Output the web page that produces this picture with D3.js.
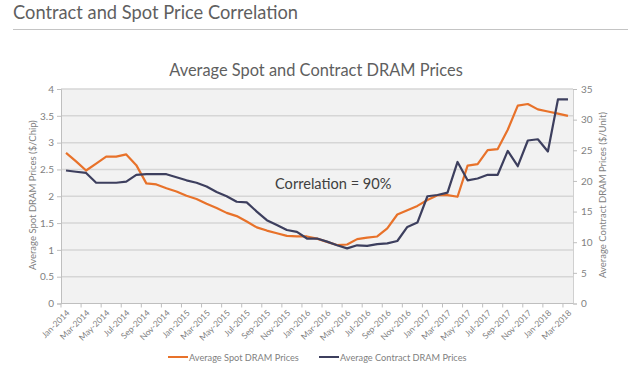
<!DOCTYPE html>
<html><head><meta charset="utf-8">
<script src="https://cdn.jsdelivr.net/npm/d3@7"></script>
<style>
body{margin:0;background:#fff;}
text{font-family:Lato,"Open Sans",sans-serif;}
</style></head><body>
<svg id="c" width="628" height="367"></svg>
<script>
const months = ["Jan-2014","Feb-2014","Mar-2014","Apr-2014","May-2014","Jun-2014","Jul-2014","Aug-2014","Sep-2014","Oct-2014","Nov-2014","Dec-2014",
"Jan-2015","Feb-2015","Mar-2015","Apr-2015","May-2015","Jun-2015","Jul-2015","Aug-2015","Sep-2015","Oct-2015","Nov-2015","Dec-2015",
"Jan-2016","Feb-2016","Mar-2016","Apr-2016","May-2016","Jun-2016","Jul-2016","Aug-2016","Sep-2016","Oct-2016","Nov-2016","Dec-2016",
"Jan-2017","Feb-2017","Mar-2017","Apr-2017","May-2017","Jun-2017","Jul-2017","Aug-2017","Sep-2017","Oct-2017","Nov-2017","Dec-2017",
"Jan-2018","Feb-2018","Mar-2018"];
const tickLabels = ["Jan-2014","Mar-2014","May-2014","Jul-2014","Sep-2014","Nov-2014","Jan-2015","Mar-2015","May-2015","Jul-2015","Sep-2015","Nov-2015",
"Jan-2016","Mar-2016","May-2016","Jul-2016","Sep-2016","Nov-2016","Jan-2017","Mar-2017","May-2017","Jul-2017","Sep-2017","Nov-2017","Jan-2018","Mar-2018"];
const spot = [2.81,2.65,2.48,2.61,2.74,2.74,2.78,2.58,2.24,2.22,2.15,2.09,
2.01,1.95,1.86,1.78,1.69,1.63,1.53,1.42,1.36,1.31,1.26,1.25,
1.25,1.21,1.15,1.09,1.10,1.20,1.23,1.25,1.40,1.66,1.74,1.82,
1.93,2.02,2.02,1.99,2.57,2.60,2.86,2.88,3.24,3.69,3.72,3.62,
3.58,3.54,3.50];
const contract = [21.7,21.5,21.3,19.7,19.7,19.7,19.9,21.0,21.1,21.1,21.1,20.6,
20.1,19.7,19.1,18.2,17.5,16.6,16.5,15.0,13.6,12.8,12.0,11.7,
10.6,10.6,10.1,9.5,9.0,9.5,9.4,9.7,9.8,10.2,12.5,13.2,
17.5,17.7,18.1,23.1,20.1,20.4,21.0,21.0,24.9,22.4,26.6,26.8,
24.8,33.3,33.3];
const leftTicks = [0,0.5,1,1.5,2,2.5,3,3.5,4];
const rightTicks = [0,5,10,15,20,25,30,35];

const svg = d3.select("#c");
const L=61, R=573, T=89, B=303.5;
const x = d3.scaleBand().domain(months).range([L,R]);
const bw = x.bandwidth();
const cx = m => x(m)+bw/2;
const yL = d3.scaleLinear().domain([0,4]).range([B,T]);
const yR = d3.scaleLinear().domain([0,35]).range([B,T]);

// titles
svg.append("text").attr("x",13).attr("y",19).attr("font-size",18.3).attr("fill","#5f5f5f").text("Contract and Spot Price Correlation");
svg.append("line").attr("x1",13).attr("x2",628).attr("y1",29.5).attr("y2",29.5).attr("stroke","#c4c4c4").attr("stroke-width",1);
svg.append("text").attr("x",316).attr("y",76).attr("text-anchor","middle").attr("font-size",16.4).attr("fill","#5f5f5f").text("Average Spot and Contract DRAM Prices");

// plot bg
svg.append("rect").attr("x",L).attr("y",T).attr("width",R-L).attr("height",B-T).attr("fill","#f2f2f2");
// grid
svg.append("g").selectAll("line").data(leftTicks.slice(1)).join("line")
 .attr("x1",L).attr("x2",R).attr("y1",d=>yL(d)).attr("y2",d=>yL(d))
 .attr("stroke","#d6d6d6").attr("stroke-width",1.5);

// left axis
const gl = svg.append("g").attr("transform",`translate(${L},0)`)
 .call(d3.axisLeft(yL).tickValues(leftTicks).tickSize(4).tickPadding(3).tickFormat(d3.format("")));
gl.select(".domain").attr("stroke","#bfbfbf");
gl.selectAll(".tick line").attr("stroke","#bfbfbf");
gl.selectAll("text").attr("font-size",10).attr("fill","#7f7f7f").style("font-family","Lato,sans-serif");

// right axis
const gr = svg.append("g").attr("transform",`translate(${R},0)`)
 .call(d3.axisRight(yR).tickValues(rightTicks).tickSize(4).tickPadding(4));
gr.select(".domain").attr("stroke","#d0d0d0");
gr.selectAll(".tick line").attr("stroke","#bfbfbf");
gr.selectAll("text").attr("font-size",10).attr("fill","#7f7f7f").style("font-family","Lato,sans-serif");

// bottom axis
svg.append("line").attr("x1",L).attr("x2",R).attr("y1",B).attr("y2",B).attr("stroke","#bfbfbf");
svg.append("g").selectAll("line").data(tickLabels).join("line")
 .attr("x1",d=>x(d)).attr("x2",d=>x(d)).attr("y1",B).attr("y2",B+4).attr("stroke","#bfbfbf");
svg.append("g").selectAll("text").data(tickLabels).join("text")
 .attr("transform",d=>`translate(${cx(d)+2},${B+8}) rotate(-45)`)
 .attr("text-anchor","end").attr("dy","0.35em").attr("font-size",8.5).attr("fill","#7f7f7f").text(d=>d);

// axis titles
svg.append("text").attr("transform",`translate(36,195) rotate(-90)`).attr("text-anchor","middle")
 .attr("font-size",9.5).attr("fill","#7f7f7f").text("Average Spot DRAM Prices ($/Chip)");
svg.append("text").attr("transform",`translate(606,195) rotate(-90)`).attr("text-anchor","middle")
 .attr("font-size",9.5).attr("fill","#7f7f7f").text("Average Contract DRAM Prices ($/Unit)");

// lines
const lineL = d3.line().x((d,i)=>cx(months[i])).y(d=>yL(d));
const lineR = d3.line().x((d,i)=>cx(months[i])).y(d=>yR(d));
const orange="#e8722a", navy="#3d3f5e";
svg.append("path").datum(spot).attr("d",lineL).attr("fill","none").attr("stroke",orange).attr("stroke-width",2.2).attr("stroke-linejoin","round");
svg.append("path").datum(contract).attr("d",lineR).attr("fill","none").attr("stroke",navy).attr("stroke-width",2.2).attr("stroke-linejoin","round");

// annotation
svg.append("text").attr("x",275).attr("y",189).attr("font-size",14.6).attr("fill","#404040").text("Correlation = 90%");

// legend
const leg = [{name:"Average Spot DRAM Prices",c:orange,x:168},{name:"Average Contract DRAM Prices",c:navy,x:319}];
const lg = svg.append("g");
leg.forEach(d=>{
 lg.append("line").attr("x1",d.x).attr("x2",d.x+20).attr("y1",357).attr("y2",357).attr("stroke",d.c).attr("stroke-width",2);
 lg.append("text").attr("x",d.x+21).attr("y",360.5).attr("font-size",9.2).attr("fill","#7f7f7f").text(d.name);
});
</script></body></html>
